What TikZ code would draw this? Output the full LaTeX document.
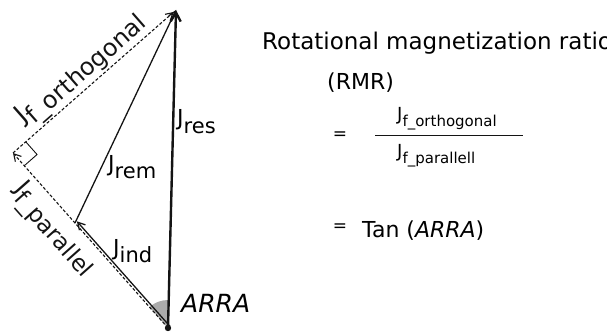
\documentclass[tikz,border=0pt]{standalone}
\usepackage{fontspec}
\setmainfont{DejaVu Sans}
\usepackage{tikz}
\usetikzlibrary{arrows.meta,positioning,calc,angles}
\definecolor{ink}{HTML}{141414}
\definecolor{wedge}{HTML}{ABABAB}
\newcommand{\jvec}[2][21]{J\raisebox{-.32em}{\fontsize{#1}{#1}\selectfont #2}}

\begin{document}
\begin{tikzpicture}[x=1pt,y=1pt,font=\fontsize{22}{22}\selectfont,
  vec/.style={-{Straight Barb[length=7pt,width=8pt]},ink,line width=1.3pt},
  comp/.style={vec,dash pattern=on 3pt off 2pt,line width=1.1pt}]
\useasboundingbox (0,0) rectangle (607,335);
\coordinate (O) at (168,7);
\coordinate (C) at (13,182);
\coordinate (T) at (176,325);
\coordinate (M) at (75,112);
\pic[fill=wedge,draw=none,angle radius=28pt] {angle=T--O--M};
% components (dashed)
\draw[comp] (O)--(C) node[pos=.64,sloped,below,inner sep=5pt,font=\fontsize{24}{24}\selectfont] (par) {\jvec[23]{f\_parallel}};
\draw[comp,shorten >=3pt] (C)--(T) node[pos=.49,sloped,above,inner sep=1pt,font=\fontsize{25}{25}\selectfont] (orth) {\jvec[24]{f\_orthogonal}};
\coordinate (ra) at ($(C)!17pt!(T)$);
\coordinate (rb) at ($(C)!17pt!(O)$);
\draw[ink,line width=.9pt] (ra)--($(ra)+(rb)-(C)$)--(rb);
% measured vectors
\draw[vec,transform canvas={shift={(1.9pt,1.7pt)}}] (O)--(M);
\draw[vec] (M)--(T);
\draw[vec,line width=2.4pt,-{Straight Barb[length=9pt,width=10pt]}] (O)--(T);
\fill[ink] (O) circle (3.2pt);
\node[anchor=base west,inner sep=0] (res) at (177,209) {\jvec{res}};
\node[anchor=base west,inner sep=0] (rem) at (108,164) {\jvec{rem}};
\node[anchor=base west,inner sep=0] (ind) at (113,80) {\jvec{ind}};
\node[anchor=base west,inner sep=0,font=\fontsize{25}{25}\selectfont\itshape] (arra) at (181,23) {ARRA};
% ratio
\node[anchor=base west,inner sep=0,font=\fontsize{23}{23}\selectfont] (title) at (262,285) {Rotational magnetization ratio};
\node[anchor=base west,inner sep=0,font=\fontsize{22}{22}\selectfont] (rmr) at (327,245) {(RMR)};
\node[inner sep=0,font=\fontsize{17}{17}\selectfont] (eqa) at (340,199) {=};
\node[anchor=base west,inner sep=0,font=\fontsize{18}{18}\selectfont] (num) at (397,214) {\jvec[15]{f\_orthogonal}};
\node[anchor=base west,inner sep=0,font=\fontsize{18}{18}\selectfont] (den) at (397,177) {\jvec[15]{f\_parallell}};
\draw[ink,line width=1pt] (375,199)--(523,199);
\node[inner sep=0,font=\fontsize{17}{17}\selectfont] (eqb) at (340,107) {=};
\node[anchor=base west,inner sep=0,font=\fontsize{22}{22}\selectfont] (tan) at (362,98) {Tan (\textit{ARRA})};
\end{tikzpicture}
\end{document}
